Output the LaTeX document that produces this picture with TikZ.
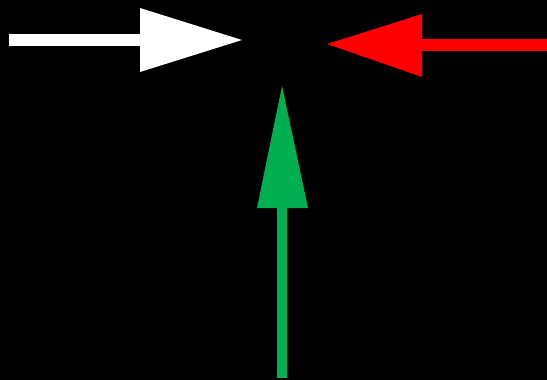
\documentclass[tikz,border=0pt]{standalone}
\definecolor{arrgreen}{RGB}{0,176,80}
\definecolor{arrred}{RGB}{255,0,0}
\begin{document}
\begin{tikzpicture}[x=1pt,y=-1pt,
  shaft/.style={line width=12pt},
  head/.style={draw=none}]
\fill[black] (0,0) rectangle (547,380);
\useasboundingbox (0,0) rectangle (547,380);
% white arrow
\draw[shaft,white] (9,40) -- (141,40);
\fill[head,white] (140,8) -- (242,40) -- (140,72) -- cycle;
% red arrow
\draw[shaft,arrred] (547,45) -- (421,45);
\fill[head,arrred] (422,14) -- (327,44) -- (422,77) -- cycle;
% green arrow
\draw[shaft,arrgreen,line width=10pt] (282,378) -- (282,207);
\fill[head,arrgreen] (257,208) -- (282,86) -- (308,208) -- cycle;
\end{tikzpicture}
\end{document}
